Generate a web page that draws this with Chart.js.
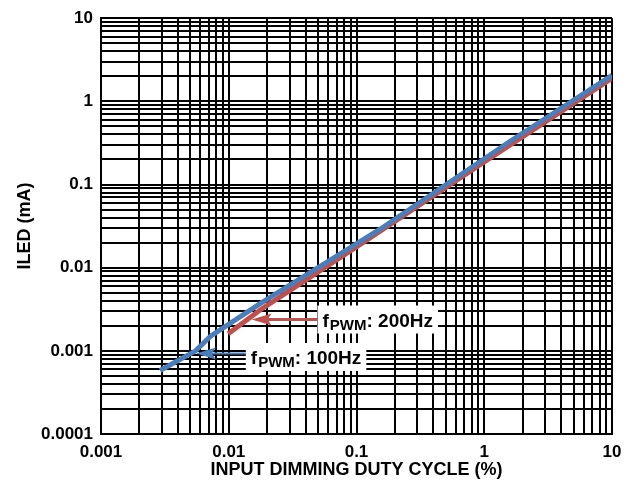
<!DOCTYPE html>
<html><head><meta charset="utf-8">
<script src="https://cdn.jsdelivr.net/npm/chart.js@4.4.1/dist/chart.umd.min.js"></script>
<style>html,body{margin:0;padding:0;background:#fff}</style>
</head><body>
<canvas id="c" width="638" height="481"></canvas>
<script>
// ---- data ----
const xTickValues = [0.001, 0.01, 0.1, 1, 10];
const xTickLabels = ['0.001', '0.01', '0.1', '1', '10'];
const yTickValues = [0.0001, 0.001, 0.01, 0.1, 1, 10];
const yTickLabels = ['0.0001', '0.001', '0.01', '0.1', '1', '10'];

const blueX = [0.0029, 0.0055, 0.0072, 0.0176, 0.153, 1.585, 10];
const blueY = [0.00058, 0.00100, 0.00150, 0.0037, 0.029, 0.329, 2.05];
const redX = [0.0099, 0.0176, 0.1, 1, 10];
const redY = [0.0016, 0.0031, 0.0178, 0.187, 1.9];

const seriesNames = ['100Hz', '200Hz'];
const xTitle = 'INPUT DIMMING DUTY CYCLE (%)';
const yTitle = 'ILED (mA)';

const BLUE = '#4a7ebb';
const RED = '#c0504d';
const FONT = '"Liberation Sans", Arial, Helvetica, sans-serif';

function gridValues(decades) {
  const out = [];
  for (let i = 0; i < decades.length - 1; i++) {
    for (let m = 1; m < 10; m++) out.push(parseFloat((m * decades[i]).toPrecision(6)));
  }
  out.push(decades[decades.length - 1]);
  return out;
}
function labelFor(value, vals, labels) {
  for (let i = 0; i < vals.length; i++) {
    if (Math.abs(Math.log10(value) - Math.log10(vals[i])) < 1e-6) return labels[i];
  }
  return '';
}

// annotation anchors (data space): arrow tip, box left
const annotations = [
  { name: seriesNames[1], color: RED, tipX: 0.0151, y: 0.00238, boxX: 0.0495, lw: 3, boxDy: 0 },
  { name: seriesNames[0], color: BLUE, tipX: 0.00554, y: 0.00093, boxX: 0.0136, lw: 2, boxDy: 3.5 }
];

const annoPlugin = {
  id: 'anno',
  afterDatasetsDraw(chart) {
    const ctx = chart.ctx;
    const xs = chart.scales.x, ys = chart.scales.y;
    annotations.forEach(a => {
      const tx = xs.getPixelForValue(a.tipX);
      const ty = ys.getPixelForValue(a.y);
      const bx = xs.getPixelForValue(a.boxX);
      const cy = ty + a.boxDy;
      const big = 'bold 19px ' + FONT, small = 'bold 15px ' + FONT;
      ctx.save();
      ctx.font = big; const w1 = ctx.measureText('f').width;
      const w3 = ctx.measureText(': ' + a.name).width;
      ctx.font = small; const w2 = ctx.measureText('PWM').width;
      const tw = w1 + w2 + w3 + 1;
      // box
      ctx.fillStyle = '#fff';
      ctx.fillRect(bx, cy - 14, tw + 10, 28);
      // text
      ctx.fillStyle = '#000';
      ctx.textBaseline = 'alphabetic';
      const base = cy + 7;
      let px = bx + 5;
      ctx.font = big; ctx.fillText('f', px, base); px += w1 + 1;
      ctx.font = small; ctx.fillText('PWM', px, base + 3); px += w2;
      ctx.font = big; ctx.fillText(': ' + a.name, px, base);
      // arrow
      ctx.strokeStyle = a.color; ctx.fillStyle = a.color;
      ctx.lineWidth = a.lw;
      ctx.beginPath(); ctx.moveTo(bx, ty); ctx.lineTo(tx + 15, ty); ctx.stroke();
      ctx.beginPath();
      ctx.moveTo(tx, ty); ctx.lineTo(tx + 20, ty - 6); ctx.lineTo(tx + 16, ty); ctx.lineTo(tx + 20, ty + 6);
      ctx.closePath(); ctx.fill();
      ctx.restore();
    });
  }
};

const xGrid = gridValues(xTickValues);
const yGrid = gridValues(yTickValues);

new Chart(document.getElementById('c'), {
  type: 'line',
  data: {
    datasets: [
      { label: seriesNames[0], data: blueX.map((x, i) => ({ x, y: blueY[i] })), borderColor: BLUE, borderWidth: 5, pointRadius: 0, tension: 0, order: 1 },
      { label: seriesNames[1], data: redX.map((x, i) => ({ x, y: redY[i] })), borderColor: RED, borderWidth: 5, pointRadius: 0, tension: 0, order: 2 }
    ]
  },
  options: {
    responsive: false,
    animation: false,
    layout: { padding: { left: 0, right: 26, top: 15, bottom: 0 } },
    plugins: { legend: { display: false }, tooltip: { enabled: false } },
    scales: {
      x: {
        type: 'logarithmic', min: 0.001, max: 10,
        afterBuildTicks: s => { s.ticks = xGrid.map(v => ({ value: v })); },
        afterFit: s => { s.height = 47; },
        grid: { color: '#000', lineWidth: 2, drawTicks: false },
        border: { color: '#000', width: 2 },
        ticks: { autoSkip: false, maxRotation: 0, minRotation: 0, padding: 8, color: '#000',
          font: { family: FONT, size: 17, weight: 'bold' },
          callback: v => labelFor(v, xTickValues, xTickLabels) },
        title: { display: true, text: xTitle, color: '#000', padding: { top: 0, bottom: 0 },
          font: { family: FONT, size: 18, weight: 'bold' } }
      },
      y: {
        type: 'logarithmic', min: 0.0001, max: 10,
        afterBuildTicks: s => { s.ticks = yGrid.map(v => ({ value: v })); },
        afterFit: s => { s.width = 101; },
        grid: { color: '#000', lineWidth: 2, drawTicks: false },
        border: { color: '#000', width: 2 },
        ticks: { autoSkip: false, padding: 8, color: '#000',
          font: { family: FONT, size: 17, weight: 'bold' },
          callback: v => labelFor(v, yTickValues, yTickLabels) },
        title: { display: true, text: yTitle, color: '#000', padding: { top: 14, bottom: 0 },
          font: { family: FONT, size: 18, weight: 'bold' } }
      }
    }
  },
  plugins: [annoPlugin]
});
</script>
</body></html>
